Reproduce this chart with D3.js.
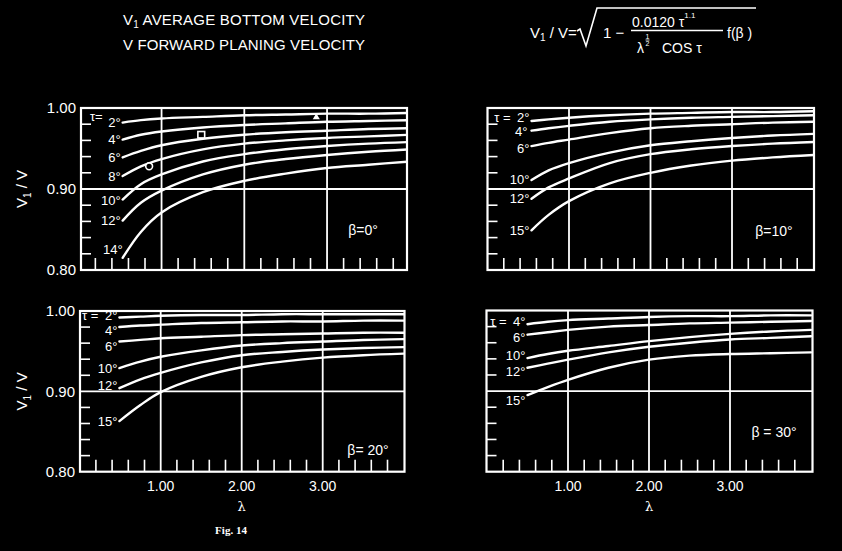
<!DOCTYPE html>
<html><head><meta charset="utf-8">
<script src="https://cdn.jsdelivr.net/npm/d3@7"></script>
<style>
html,body{margin:0;padding:0;background:#000;}
svg{display:block;background:#000;}
text{fill:#fff;font-family:"Liberation Sans",Arial,sans-serif;}
</style></head><body>
<svg id="c" width="842" height="551"></svg>
<script>
// ---------- data ----------
const yTickValues = [0.80, 0.90, 1.00];
const yTickLabels = ["0.80", "0.90", "1.00"];
const xTickValues = [1, 2, 3];
const xTickLabels = ["1.00", "2.00", "3.00"];
const minorY = [0.82, 0.84, 0.86, 0.88, 0.92, 0.94, 0.96, 0.98];
const minorX = [0.2, 0.4, 0.6, 0.8, 1.2, 1.4, 1.6, 1.8, 2.2, 2.4, 2.6, 2.8, 3.2, 3.4, 3.6, 3.8];
const betaLabels = ["β=0°", "β=10°", "β= 20°", "β = 30°"];

// beta = 0
const lambdaB0 = [0.53, 0.75, 1, 1.5, 2, 2.5, 3, 3.5, 4];
const tauB0 = ["2°", "4°", "6°", "8°", "10°", "12°", "14°"];
const valuesB0 = [
  [0.982, 0.985, 0.987, 0.989, 0.991, 0.992, 0.993, 0.993, 0.994],
  [0.961, 0.967, 0.971, 0.976, 0.979, 0.981, 0.983, 0.984, 0.985],
  [0.939, 0.947, 0.954, 0.962, 0.967, 0.970, 0.972, 0.974, 0.975],
  [0.916, 0.928, 0.937, 0.949, 0.956, 0.960, 0.963, 0.965, 0.967],
  [0.887, 0.906, 0.918, 0.934, 0.943, 0.949, 0.953, 0.956, 0.958],
  [0.861, 0.883, 0.898, 0.918, 0.930, 0.937, 0.942, 0.946, 0.949],
  [0.815, 0.847, 0.871, 0.896, 0.910, 0.919, 0.926, 0.930, 0.934]
];
// test points (beta = 0 panel)
const circlePoints = [[0.85, 0.928]];
const squarePoints = [[1.48, 0.967]];
const trianglePoints = [[2.87, 0.9885]];

// beta = 10
const lambdaB10 = [0.54, 0.75, 1, 1.5, 2, 2.5, 3, 3.5, 4];
const tauB10 = ["2°", "4°", "6°", "10°", "12°", "15°"];
const valuesB10 = [
  [0.984, 0.986, 0.988, 0.991, 0.993, 0.994, 0.995, 0.995, 0.996],
  [0.972, 0.975, 0.978, 0.983, 0.986, 0.988, 0.989, 0.990, 0.991],
  [0.953, 0.957, 0.961, 0.969, 0.975, 0.978, 0.980, 0.982, 0.983],
  [0.911, 0.923, 0.932, 0.945, 0.954, 0.959, 0.963, 0.966, 0.968],
  [0.888, 0.902, 0.913, 0.932, 0.943, 0.949, 0.953, 0.956, 0.958],
  [0.849, 0.868, 0.885, 0.907, 0.920, 0.929, 0.935, 0.939, 0.942]
];

// beta = 20
const lambdaB20 = [0.49, 0.75, 1, 1.5, 2, 2.5, 3, 3.5, 4];
const tauB20 = ["2°", "4°", "6°", "10°", "12°", "15°"];
const valuesB20 = [
  [0.992, 0.993, 0.994, 0.995, 0.995, 0.996, 0.996, 0.996, 0.996],
  [0.980, 0.982, 0.983, 0.985, 0.986, 0.987, 0.987, 0.988, 0.988],
  [0.962, 0.964, 0.966, 0.968, 0.970, 0.971, 0.972, 0.973, 0.973],
  [0.929, 0.937, 0.943, 0.951, 0.957, 0.960, 0.962, 0.964, 0.965],
  [0.904, 0.915, 0.923, 0.936, 0.945, 0.949, 0.952, 0.954, 0.955],
  [0.863, 0.883, 0.899, 0.918, 0.930, 0.937, 0.942, 0.945, 0.947]
];

// beta = 30
const lambdaB30 = [0.5, 0.75, 1, 1.5, 2, 2.5, 3, 3.5, 4];
const tauB30 = ["4°", "6°", "10°", "12°", "15°"];
const valuesB30 = [
  [0.983, 0.986, 0.988, 0.990, 0.992, 0.993, 0.993, 0.994, 0.994],
  [0.970, 0.973, 0.976, 0.980, 0.982, 0.984, 0.985, 0.986, 0.987],
  [0.941, 0.946, 0.950, 0.956, 0.962, 0.967, 0.971, 0.974, 0.976],
  [0.929, 0.934, 0.939, 0.948, 0.955, 0.960, 0.964, 0.966, 0.968],
  [0.895, 0.905, 0.914, 0.929, 0.939, 0.944, 0.946, 0.947, 0.948]
];

// ---------- layout ----------
const svg = d3.select("#c");
const W = "#fff";

const panels = [
  {lam: lambdaB0,  vals: valuesB0,  tau: tauB0,  beta: betaLabels[0], xr: [78.8, 409.8], fx: [81, 407],     fy: [108, 270],     bpos: [363, 235], yAxis: true,  xAxis: false, markers: true,
   ldy: [0, 0, 0, 0, 1, 0, -9], ldx: [0, 0, 0, 0, 0, 0, 2], tauLead: "τ=", leadDx: -3, leadDy: -6},
  {lam: lambdaB10, vals: valuesB10, tau: tauB10, beta: betaLabels[1], xr: [487.5, 813.5], fx: [487.5, 814], fy: [108, 270],     bpos: [774, 236], yAxis: false, xAxis: false,
   ldy: [-4, 1, 2.5, -1, 0, 0], ldx: [0, -2, 0, 0, 0, 0], tauLead: "τ =", leadDx: -4, leadDy: 0},
  {lam: lambdaB20, vals: valuesB20, tau: tauB20, beta: betaLabels[2], xr: [79.7, 403.7], fx: [80, 404.5],   fy: [311, 471.7],   bpos: [368, 455], yAxis: true,  xAxis: true,
   ldy: [-2.5, 3.5, 4.5, 0, -3, 0], ldx: [0, 0, 0, 0, 0, 0], tauLead: "τ =", leadDx: -4, leadDy: 0},
  {lam: lambdaB30, vals: valuesB30, tau: tauB30, beta: betaLabels[3], xr: [487, 811],    fx: [486.5, 812.5], fy: [310.5, 471.7], bpos: [774, 437], yAxis: false, xAxis: true,
   ldy: [-3, 3, -2.5, 3.5, 5], ldx: [0, 0, 0, 0, 0], tauLead: "τ =", leadDx: -4, leadDy: 0}
];

panels.forEach((p, i) => {
  const x = d3.scaleLinear().domain([0, 4]).range(p.xr);
  const y = d3.scaleLinear().domain([0.8, 1.0]).range([p.fy[1], p.fy[0]]);
  const g = svg.append("g");

  const cid = "clip" + i;
  svg.append("clipPath").attr("id", cid).append("rect")
    .attr("x", p.fx[0]).attr("y", p.fy[0])
    .attr("width", p.fx[1] - p.fx[0]).attr("height", p.fy[1] - p.fy[0]);

  // grid lines
  g.selectAll(".vg").data(xTickValues).join("line")
    .attr("x1", d => x(d)).attr("x2", d => x(d))
    .attr("y1", p.fy[0]).attr("y2", p.fy[1])
    .attr("stroke", W).attr("stroke-width", 1.8);
  g.append("line")
    .attr("x1", p.fx[0]).attr("x2", p.fx[1])
    .attr("y1", y(0.90)).attr("y2", y(0.90))
    .attr("stroke", W).attr("stroke-width", 1.8);

  // minor ticks inside frame
  g.selectAll(".my").data(minorY).join("line")
    .attr("x1", p.fx[0]).attr("x2", p.fx[0] + 10)
    .attr("y1", d => y(d)).attr("y2", d => y(d))
    .attr("stroke", W).attr("stroke-width", 1.6);
  g.selectAll(".mx").data(minorX).join("line")
    .attr("x1", d => x(d)).attr("x2", d => x(d))
    .attr("y1", p.fy[1]).attr("y2", p.fy[1] - 12)
    .attr("stroke", W).attr("stroke-width", 1.6);

  // frame
  g.append("rect")
    .attr("x", p.fx[0]).attr("y", p.fy[0])
    .attr("width", p.fx[1] - p.fx[0]).attr("height", p.fy[1] - p.fy[0])
    .attr("fill", "none").attr("stroke", W).attr("stroke-width", 2.2);

  // curves
  const line = d3.line().x(d => x(d[0])).y(d => y(d[1])).curve(d3.curveCatmullRom.alpha(0.5));
  const series = p.vals.map(v => v.map((val, k) => [p.lam[k], val]));
  g.append("g").attr("clip-path", `url(#${cid})`)
    .selectAll("path").data(series).join("path")
    .attr("d", line).attr("fill", "none")
    .attr("stroke", W).attr("stroke-width", 2.4).attr("stroke-linecap", "round");

  // curve labels
  const lx = (d, k) => x(d[0][0]) - 2 + p.ldx[k];
  const ly = (d, k) => y(d[0][1]) + p.ldy[k];
  g.selectAll(".tl").data(series).join("text")
    .attr("x", lx).attr("y", ly)
    .attr("dy", "0.36em")
    .attr("text-anchor", "end")
    .attr("font-size", 13)
    .text((d, k) => p.tau[k]);
  // leading "τ =" before the first label
  const first = series[0];
  const firstW = 15;
  g.append("text")
    .attr("x", lx(first, 0) - firstW + p.leadDx)
    .attr("y", ly(first, 0) + p.leadDy)
    .attr("dy", "0.36em").attr("text-anchor", "end").attr("font-size", 13)
    .text(p.tauLead);

  // beta label
  g.append("text").attr("x", p.bpos[0]).attr("y", p.bpos[1])
    .attr("text-anchor", "middle").attr("font-size", 14).text(p.beta);

  // y tick labels
  if (p.yAxis) {
    g.selectAll(".yl").data(yTickValues).join("text")
      .attr("x", p.fx[0] - 5).attr("y", d => y(d)).attr("dy", "0.36em")
      .attr("text-anchor", "end").attr("font-size", 15)
      .text((d, k) => yTickLabels[k]);
    const yl = g.append("text")
      .attr("transform", `translate(27,${y(0.90)}) rotate(-90)`)
      .attr("text-anchor", "middle").attr("font-size", 15);
    yl.append("tspan").text("V");
    yl.append("tspan").attr("font-size", 10).attr("dy", 4).text("1");
    yl.append("tspan").attr("dy", -4).text(" / V");
  }
  // x tick labels
  if (p.xAxis) {
    g.selectAll(".xl").data(xTickValues).join("text")
      .attr("x", d => x(d)).attr("y", 491)
      .attr("text-anchor", "middle").attr("font-size", 14)
      .text((d, k) => xTickLabels[k]);
    g.append("text").attr("x", x(2)).attr("y", 511)
      .attr("text-anchor", "middle").attr("font-size", 13)
      .style("font-family", "'DejaVu Serif',serif").text("λ");
  }

  // markers
  if (p.markers) {
    g.selectAll(".mc").data(circlePoints).join("circle")
      .attr("cx", d => x(d[0])).attr("cy", d => y(d[1])).attr("r", 3.4)
      .attr("fill", "#000").attr("stroke", W).attr("stroke-width", 1.6);
    g.selectAll(".ms").data(squarePoints).join("rect")
      .attr("x", d => x(d[0]) - 3.4).attr("y", d => y(d[1]) - 3.2)
      .attr("width", 6.8).attr("height", 6.4)
      .attr("fill", "#000").attr("stroke", W).attr("stroke-width", 1.6);
    g.selectAll(".mt").data(trianglePoints).join("path")
      .attr("d", d3.symbol().type(d3.symbolTriangle).size(22))
      .attr("transform", d => `translate(${x(d[0])},${y(d[1])})`)
      .attr("fill", W);
  }
});

// ---------- titles ----------
const t1 = svg.append("text").attr("x", 123).attr("y", 24.5).attr("font-size", 15)
  .attr("textLength", 242).attr("lengthAdjust", "spacing");
t1.append("tspan").text("V");
t1.append("tspan").attr("font-size", 10).attr("dy", 3).text("1");
t1.append("tspan").attr("dy", -3).text(" AVERAGE BOTTOM VELOCITY");
svg.append("text").attr("x", 123).attr("y", 49.5).attr("font-size", 15)
  .attr("textLength", 242).attr("lengthAdjust", "spacing")
  .text("V FORWARD PLANING VELOCITY");

// ---------- formula ----------
const f1 = svg.append("text").attr("x", 530).attr("y", 37.5).attr("font-size", 15);
f1.append("tspan").text("V");
f1.append("tspan").attr("font-size", 10).attr("dy", 3).text("1");
f1.append("tspan").attr("dy", -3).text(" / V=");
svg.append("path").attr("d", "M577,31 L580,29 L586,46 L597,8 L756,8")
  .attr("fill", "none").attr("stroke", W).attr("stroke-width", 1.6);
svg.append("text").attr("x", 603).attr("y", 38).attr("font-size", 15).text("1 −");
const num = svg.append("text").attr("x", 632).attr("y", 27).attr("font-size", 14);
num.append("tspan").text("0.0120 τ");
num.append("tspan").attr("font-size", 8).attr("dy", -9).text("1.1");
svg.append("line").attr("x1", 631).attr("x2", 723).attr("y1", 30.5).attr("y2", 30.5)
  .attr("stroke", W).attr("stroke-width", 1.4);
svg.append("text").attr("x", 727).attr("y", 37.5).attr("font-size", 14).text("f(β )");
svg.append("text").attr("x", 637).attr("y", 53).attr("font-size", 14).text("λ");
svg.append("text").attr("x", 647.5).attr("y", 38.5).attr("font-size", 7).attr("text-anchor", "middle").text("1");
svg.append("line").attr("x1", 645.5).attr("x2", 649.5).attr("y1", 40).attr("y2", 40)
  .attr("stroke", W).attr("stroke-width", 0.8);
svg.append("text").attr("x", 647.5).attr("y", 46).attr("font-size", 7).attr("text-anchor", "middle").text("2");
svg.append("text").attr("x", 662).attr("y", 53).attr("font-size", 14).text("COS τ");

// ---------- caption ----------
svg.append("text").attr("x", 231).attr("y", 534).attr("text-anchor", "middle")
  .attr("font-size", 11).attr("font-weight", "bold")
  .style("font-family", "'Liberation Serif','DejaVu Serif',serif").text("Fig. 14");
</script>
</body></html>
